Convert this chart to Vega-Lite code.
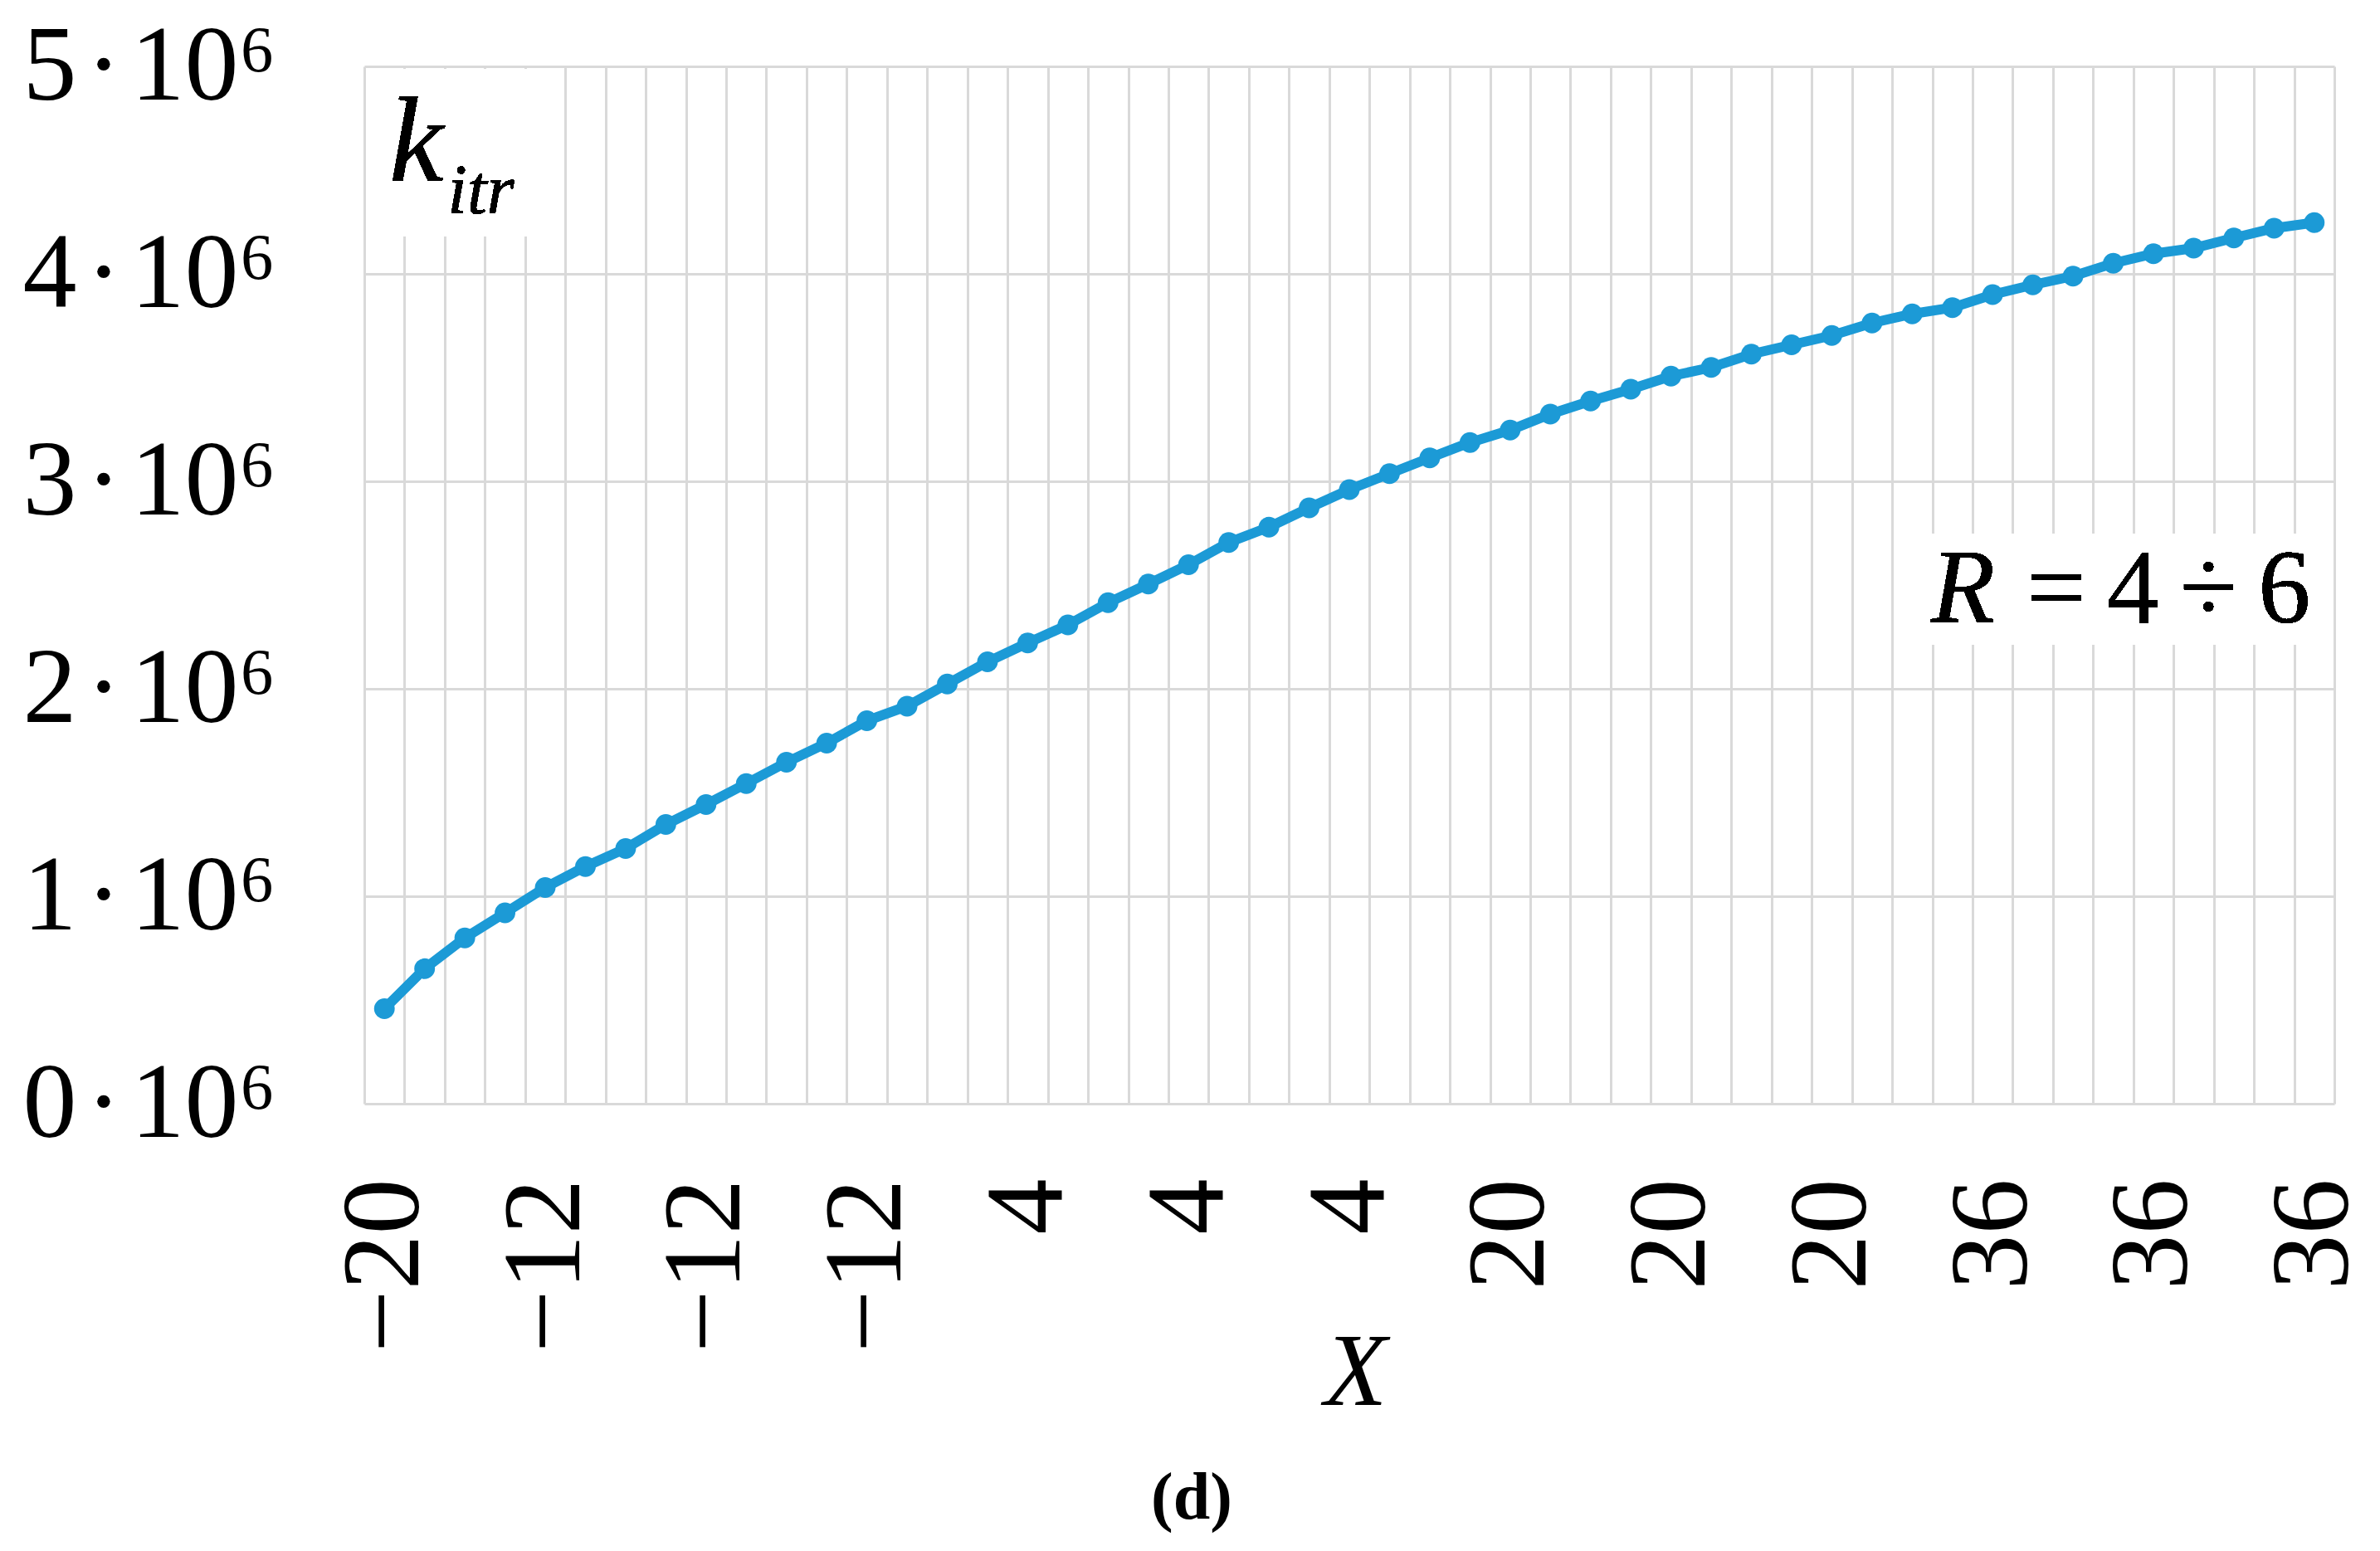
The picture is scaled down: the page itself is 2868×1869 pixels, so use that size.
{
  "$schema": "https://vega.github.io/schema/vega-lite/v6.json",
  "width": 2374,
  "height": 1250,
  "autosize": {"type": "none"},
  "padding": {"left": 439, "top": 80, "right": 55, "bottom": 539},
  "background": "white",
  "config": {
    "view": {"stroke": null},
    "font": "Liberation Serif, Times New Roman, Times, serif",
    "axis": {"labelFont": "Liberation Serif, Times New Roman, Times, serif", "titleFont": "Liberation Serif, Times New Roman, Times, serif", "labelColor": "black", "titleColor": "black", "labelLimit": 2000}
  },
  "title": {
    "text": "(d)",
    "orient": "bottom",
    "anchor": "middle",
    "font": "Liberation Serif, Times New Roman, Times, serif",
    "fontSize": 80,
    "fontWeight": "bold",
    "color": "black",
    "dx": -190,
    "offset": 50
  },
  "data": {
    "values": [
      {"i": 1, "k": 458000}, {"i": 2, "k": 651000}, {"i": 3, "k": 799000}, {"i": 4, "k": 920000},
      {"i": 5, "k": 1042000}, {"i": 6, "k": 1143000}, {"i": 7, "k": 1230000}, {"i": 8, "k": 1346000},
      {"i": 9, "k": 1442000}, {"i": 10, "k": 1543000}, {"i": 11, "k": 1646000}, {"i": 12, "k": 1738000},
      {"i": 13, "k": 1846000}, {"i": 14, "k": 1916000}, {"i": 15, "k": 2023000}, {"i": 16, "k": 2130000},
      {"i": 17, "k": 2221000}, {"i": 18, "k": 2308000}, {"i": 19, "k": 2415000}, {"i": 20, "k": 2505000},
      {"i": 21, "k": 2598000}, {"i": 22, "k": 2705000}, {"i": 23, "k": 2779000}, {"i": 24, "k": 2872000},
      {"i": 25, "k": 2960000}, {"i": 26, "k": 3037000}, {"i": 27, "k": 3113000}, {"i": 28, "k": 3187000},
      {"i": 29, "k": 3247000}, {"i": 30, "k": 3324000}, {"i": 31, "k": 3387000}, {"i": 32, "k": 3444000},
      {"i": 33, "k": 3507000}, {"i": 34, "k": 3549000}, {"i": 35, "k": 3613000}, {"i": 36, "k": 3658000},
      {"i": 37, "k": 3703000}, {"i": 38, "k": 3763000}, {"i": 39, "k": 3807000}, {"i": 40, "k": 3837000},
      {"i": 41, "k": 3900000}, {"i": 42, "k": 3947000}, {"i": 43, "k": 3989000}, {"i": 44, "k": 4051000},
      {"i": 45, "k": 4097000}, {"i": 46, "k": 4124000}, {"i": 47, "k": 4173000}, {"i": 48, "k": 4220000},
      {"i": 49, "k": 4247000}
    ]
  },
  "encoding": {
    "x": {
      "field": "i",
      "type": "quantitative",
      "scale": {"domain": [0.5, 49.5], "nice": false, "zero": false},
      "axis": {
        "title": "X",
        "titleFontStyle": "italic",
        "titleFontWeight": "normal",
        "titleFontSize": 124,
        "titleBaseline": "alphabetic",
        "titleX": 1194,
        "titleY": 362,
        "values": [0.5, 1.5, 2.5, 3.5, 4.5, 5.5, 6.5, 7.5, 8.5, 9.5, 10.5, 11.5, 12.5, 13.5, 14.5, 15.5, 16.5, 17.5, 18.5, 19.5, 20.5, 21.5, 22.5, 23.5, 24.5, 25.5, 26.5, 27.5, 28.5, 29.5, 30.5, 31.5, 32.5, 33.5, 34.5, 35.5, 36.5, 37.5, 38.5, 39.5, 40.5, 41.5, 42.5, 43.5, 44.5, 45.5, 46.5, 47.5, 48.5, 49.5, 1, 5, 9, 13, 17, 21, 25, 29, 33, 37, 41, 45, 49],
        "labelExpr": "datum.value % 1 === 0 ? ['−20','−12','−12','−12','4','4','4','20','20','20','36','36','36'][(datum.value - 1) / 4] : ''",
        "labelAngle": 270,
        "labelFontSize": 134,
        "labelPadding": 90,
        "labelLimit": 2000,
        "labelOverlap": false,
        "labelBound": false,
        "labelFlush": false,
        "ticks": false,
        "tickSize": 0,
        "domain": false,
        "grid": true,
        "gridWidth": 3,
        "gridColor": {"condition": {"test": "datum.value % 1 === 0", "value": "rgba(0,0,0,0)"}, "value": "#d9d9d9"}
      }
    },
    "y": {
      "field": "k",
      "type": "quantitative",
      "scale": {"domain": [0, 5000000], "nice": false},
      "axis": {
        "title": null,
        "values": [0, 1000000, 2000000, 3000000, 4000000, 5000000],
        "labelExpr": "(datum.value / 1000000) + '\u200a·\u200a10⁶'",
        "labelFontSize": 130,
        "labelAlign": "left",
        "labelBaseline": "middle",
        "labelPadding": 412,
        "labelLimit": 2000,
        "labelOverlap": false,
        "labelFlush": false,
        "ticks": false,
        "tickSize": 0,
        "domain": false,
        "grid": true,
        "gridWidth": 3,
        "gridColor": "#d9d9d9"
      }
    }
  },
  "layer": [
    {
      "mark": {"type": "rect", "color": "white"},
      "encoding": {
        "x": {"datum": 0.55},
        "x2": {"datum": 5.0},
        "y": {"datum": 4180000},
        "y2": {"datum": 4985000}
      }
    },
    {
      "mark": {"type": "rect", "color": "white"},
      "encoding": {
        "x": {"datum": 38.9},
        "x2": {"datum": 49.0},
        "y": {"datum": 2212000},
        "y2": {"datum": 2748000}
      }
    },
    {
      "mark": {"type": "text", "text": "k", "font": "Liberation Serif, Times New Roman, Times, serif", "fontStyle": "italic", "fontSize": 147, "align": "left", "baseline": "alphabetic", "color": "black"},
      "encoding": {"x": {"datum": 1.12}, "y": {"datum": 4448000}}
    },
    {
      "mark": {"type": "text", "text": "itr", "font": "Liberation Serif, Times New Roman, Times, serif", "fontStyle": "italic", "fontSize": 85, "align": "left", "baseline": "alphabetic", "color": "black"},
      "encoding": {"x": {"datum": 2.57}, "y": {"datum": 4292000}}
    },
    {
      "mark": {"type": "text", "text": "R", "font": "Liberation Serif, Times New Roman, Times, serif", "fontStyle": "italic", "fontSize": 126, "align": "left", "baseline": "alphabetic", "color": "black"},
      "encoding": {"x": {"datum": 39.47}, "y": {"datum": 2320000}}
    },
    {
      "mark": {"type": "text", "text": "=\u20094\u2009÷\u20096", "font": "Liberation Serif, Times New Roman, Times, serif", "fontSize": 126, "align": "left", "baseline": "alphabetic", "color": "black"},
      "encoding": {"x": {"datum": 41.85}, "y": {"datum": 2320000}}
    },
    {
      "mark": {"type": "line", "color": "#1c9ad6", "strokeWidth": 12, "point": {"filled": true, "size": 620, "color": "#1c9ad6"}}
    }
  ]
}
